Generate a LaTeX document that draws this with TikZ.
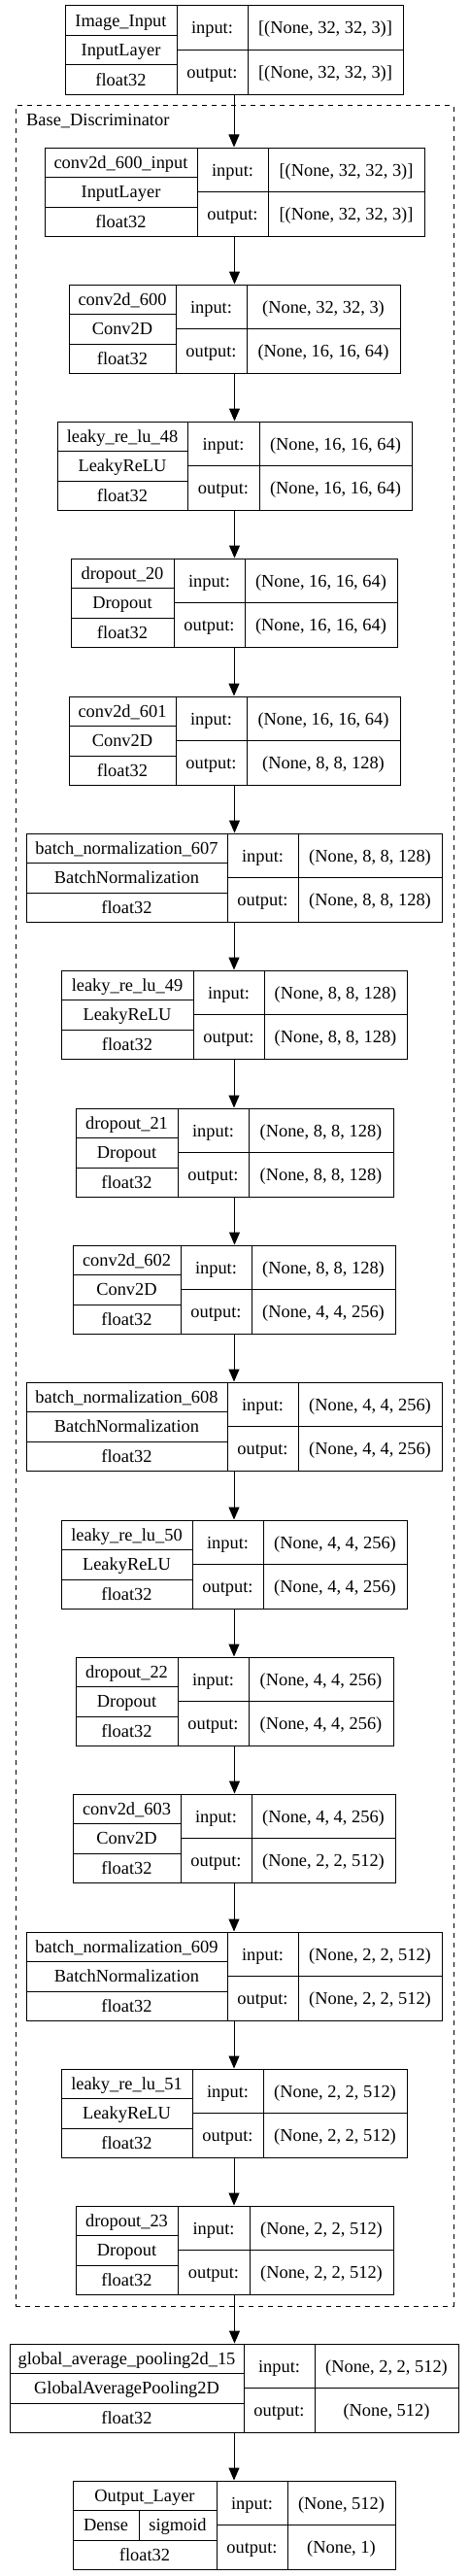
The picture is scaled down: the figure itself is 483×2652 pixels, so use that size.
\documentclass[tikz,border=0pt]{standalone}
\usepackage{fontspec}
\setmainfont{Liberation Serif}
\usetikzlibrary{arrows.meta}

\tikzset{
  box/.style={draw, line width=1pt, inner sep=0pt, minimum height=91.5},
  txt/.style={inner sep=0pt, text height=12.2pt, text depth=0pt,
    font=\fontsize{18.4}{22}\selectfont},
  cluster/.style={draw, dashed, dash pattern=on 5pt off 5pt, line width=1pt,
    inner sep=0pt},
  arr/.style={line width=1pt, -{Triangle[length=13pt,width=11pt]}},
  rule/.style={line width=1pt}
}

% frame of one layer: id, top, left, col1, col2, right
\newcommand{\layerbox}[6]{%
  \def\Lid{#1}\def\Lt{#2}\def\Ll{#3}\def\La{#4}\def\Lb{#5}\def\Lr{#6}%
  \node[box, minimum width={#6-#3}] (#1) at ({(#3+#6)/2},{#2+45.75}) {};
  \draw[rule] (#4,#2) -- (#4,#2+91.5);
  \draw[rule] (#5,#2) -- (#5,#2+91.5);
  \draw[rule] (#3,#2+30.5) -- (#4,#2+30.5);
  \draw[rule] (#3,#2+61) -- (#4,#2+61);
  \draw[rule] (#4,#2+45.75) -- (#6,#2+45.75);
}
% texts of the last layer box: name, type, input, output
\newcommand{\layertext}[4]{%
  \node[txt] (\Lid-name) at ({(\Ll+\La)/2},{\Lt+15.25}) {#1};
  \node[txt] (\Lid-type) at ({(\Ll+\La)/2},{\Lt+45.75}) {#2};
  \node[txt] (\Lid-dtype) at ({(\Ll+\La)/2},{\Lt+76.25}) {float32};
  \node[txt] (\Lid-inlab) at ({(\La+\Lb)/2},{\Lt+22.9}) {input:};
  \node[txt] (\Lid-outlab) at ({(\La+\Lb)/2},{\Lt+68.6}) {output:};
  \node[txt] (\Lid-in) at ({(\Lb+\Lr)/2},{\Lt+22.9}) {#3};
  \node[txt] (\Lid-out) at ({(\Lb+\Lr)/2},{\Lt+68.6}) {#4};
}

\begin{document}
\begin{tikzpicture}[x=1pt,y=-1pt]
\useasboundingbox[fill=white] (0,0) rectangle (483,2652);

% submodel frame
\node[cluster, minimum width=451, minimum height=2265] (disc) at (241.5,1241.5) {};
\node[txt, anchor=base west] (disc-lab) at (27,130) {Base\_Discriminator};

\layerbox{img}{6}{67}{182}{255}{415}
\layertext{Image\_Input}{InputLayer}{[(None, 32, 32, 3)]}{[(None, 32, 32, 3)]}

\layerbox{c600in}{152}{46}{203}{276}{437}
\layertext{conv2d\_600\_input}{InputLayer}{[(None, 32, 32, 3)]}{[(None, 32, 32, 3)]}

\layerbox{c600}{293}{71}{181}{254}{412}
\layertext{conv2d\_600}{Conv2D}{(None, 32, 32, 3)}{(None, 16, 16, 64)}

\layerbox{lr48}{434}{59}{193}{267}{424}
\layertext{leaky\_re\_lu\_48}{LeakyReLU}{(None, 16, 16, 64)}{(None, 16, 16, 64)}

\layerbox{do20}{575}{73}{179}{252}{409}
\layertext{dropout\_20}{Dropout}{(None, 16, 16, 64)}{(None, 16, 16, 64)}

\layerbox{c601}{717}{71}{181}{254}{412}
\layertext{conv2d\_601}{Conv2D}{(None, 16, 16, 64)}{(None, 8, 8, 128)}

\layerbox{bn607}{858}{27}{234}{307}{455}
\layertext{batch\_normalization\_607}{BatchNormalization}{(None, 8, 8, 128)}{(None, 8, 8, 128)}

\layerbox{lr49}{999}{63}{199}{272}{419}
\layertext{leaky\_re\_lu\_49}{LeakyReLU}{(None, 8, 8, 128)}{(None, 8, 8, 128)}

\layerbox{do21}{1141}{78}{183}{256}{405}
\layertext{dropout\_21}{Dropout}{(None, 8, 8, 128)}{(None, 8, 8, 128)}

\layerbox{c602}{1282}{75}{186}{259}{407}
\layertext{conv2d\_602}{Conv2D}{(None, 8, 8, 128)}{(None, 4, 4, 256)}

\layerbox{bn608}{1423}{27}{234}{307}{455}
\layertext{batch\_normalization\_608}{BatchNormalization}{(None, 4, 4, 256)}{(None, 4, 4, 256)}

\layerbox{lr50}{1565}{63}{198}{271}{419}
\layertext{leaky\_re\_lu\_50}{LeakyReLU}{(None, 4, 4, 256)}{(None, 4, 4, 256)}

\layerbox{do22}{1706}{78}{183}{256}{405}
\layertext{dropout\_22}{Dropout}{(None, 4, 4, 256)}{(None, 4, 4, 256)}

\layerbox{c603}{1847}{75}{186}{259}{407}
\layertext{conv2d\_603}{Conv2D}{(None, 4, 4, 256)}{(None, 2, 2, 512)}

\layerbox{bn609}{1989}{27}{234}{307}{455}
\layertext{batch\_normalization\_609}{BatchNormalization}{(None, 2, 2, 512)}{(None, 2, 2, 512)}

\layerbox{lr51}{2130}{63}{198}{271}{419}
\layertext{leaky\_re\_lu\_51}{LeakyReLU}{(None, 2, 2, 512)}{(None, 2, 2, 512)}

\layerbox{do23}{2271}{78}{183}{257}{405}
\layertext{dropout\_23}{Dropout}{(None, 2, 2, 512)}{(None, 2, 2, 512)}

\layerbox{gap15}{2413}{10}{251}{324}{472}
\layertext{global\_average\_pooling2d\_15}{GlobalAveragePooling2D}{(None, 2, 2, 512)}{(None, 512)}

% output layer, type row split in two
\layerbox{out}{2554}{75}{223}{296}{407}
\draw[rule] (143,2584.5) -- (143,2615);
\node[txt] (out-name) at (149,2569.25) {Output\_Layer};
\node[txt] (out-type) at (109,2599.75) {Dense};
\node[txt] (out-act) at (183,2599.75) {sigmoid};
\node[txt] (out-dtype) at (149,2630.25) {float32};
\node[txt] (out-inlab) at (259.5,2576.9) {input:};
\node[txt] (out-outlab) at (259.5,2622.6) {output:};
\node[txt] (out-in) at (351.5,2576.9) {(None, 512)};
\node[txt] (out-out) at (351.5,2622.6) {(None, 1)};

% connectors
\foreach \a/\b in {img/c600in, c600in/c600, c600/lr48, lr48/do20, do20/c601,
  c601/bn607, bn607/lr49, lr49/do21, do21/c602, c602/bn608, bn608/lr50,
  lr50/do22, do22/c603, c603/bn609, bn609/lr51, lr51/do23, do23/gap15,
  gap15/out}
  \draw[arr] (\a.south) -- (\a.south |- \b.north);
\end{tikzpicture}
\end{document}
